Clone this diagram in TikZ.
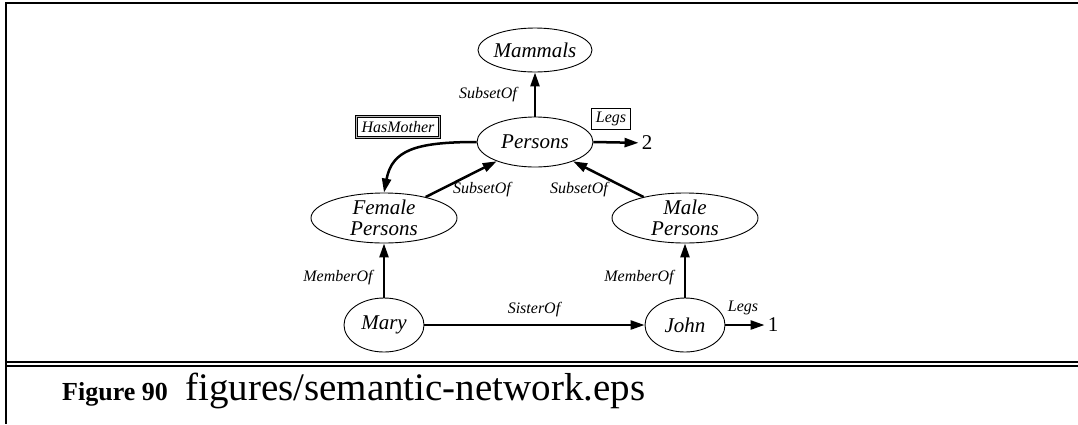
\documentclass[tikz,border=0pt]{standalone}
\usepackage{fontspec}
\setmainfont{Liberation Serif}
\usepackage{tikz}
\usetikzlibrary{arrows.meta,positioning,shapes.geometric}

\begin{document}
\begin{tikzpicture}[x=1pt,y=-1pt,
  concept/.style={ellipse,draw,line width=0.9pt,inner sep=-30pt,align=center,
                  font=\fontsize{21}{21}\selectfont\itshape},
  rel/.style={font=\fontsize{16}{16}\selectfont\itshape,inner sep=1pt},
  slot/.style={rel,draw,line width=0.8pt,inner xsep=4pt,minimum height=21pt},
  mslot/.style={slot,line width=0.6pt,double=gray!55,double distance=1.3pt,inner xsep=5pt},
  val/.style={font=\fontsize{21}{21}\selectfont,inner sep=3pt},
  link/.style={line width=2.5pt,-{Triangle[length=14pt,width=9pt]}},
  frame/.style={line width=2pt}
]
  \useasboundingbox (0,0) rectangle (1078,424);
  \draw[frame] (1078,2.5) -| (6,424);
  \draw[frame] (6,362) -- (1078,362);
  \draw[frame] (6,365.7) -- (1078,365.7);

  \node[concept,minimum width=114pt,minimum height=44pt] (mam)  at (535,50)  {Mammals};
  \node[concept,minimum width=116pt,minimum height=50pt] (per)  at (535,142) {Persons};
  \node[concept,minimum width=146pt,minimum height=50pt] (fem)  at (384,218) {Female\\Persons};
  \node[concept,minimum width=146pt,minimum height=50pt] (male) at (685,218) {Male\\Persons};
  \node[concept,minimum width=80pt,minimum height=54pt]  (mary) at (384,325) {Mary};
  \node[concept,minimum width=80pt,minimum height=54pt]  (john) at (685,325) {John};
  \node[val] (two) at (647,143) {2};
  \node[val] (one) at (773,325) {1};

  \node[rel]   (lmam)  at (488,95)  {SubsetOf};
  \node[rel]   (lfem)  at (482,190) {SubsetOf};
  \node[rel]   (lmale) at (579,190) {SubsetOf};
  \node[rel]   (lmary) at (338,278) {MemberOf};
  \node[rel]   (ljohn) at (639,278) {MemberOf};
  \node[rel]   (lsis)  at (534,310) {SisterOf};
  \node[rel]   (llegs) at (743,308) {Legs};
  \node[slot]  (slegs) at (611,119) {Legs};
  \node[mslot] (smom)  at (398,127) {HasMother};

  \draw[link] (per)  -- (mam);
  \draw[link] (fem)  -- (per);
  \draw[link] (male) -- (per);
  \draw[link] (mary) -- (fem);
  \draw[link] (john) -- (male);
  \draw[link] (mary) -- (john);
  \draw[link] (per.east)  -- (two);
  \draw[link] (john.east) -- (one);
  \draw[link] (per.west) .. controls +(-62,0) and +(8,-42) .. (fem.north);

  \node[anchor=base west,inner sep=0pt,font=\fontsize{26}{26}\selectfont\bfseries] (fignum) at (62,400) {Figure 90};
  \node[anchor=base west,inner sep=0pt,font=\fontsize{39}{39}\selectfont] (figfile) at (185,400) {figures/semantic-network.eps};
\end{tikzpicture}
\end{document}
